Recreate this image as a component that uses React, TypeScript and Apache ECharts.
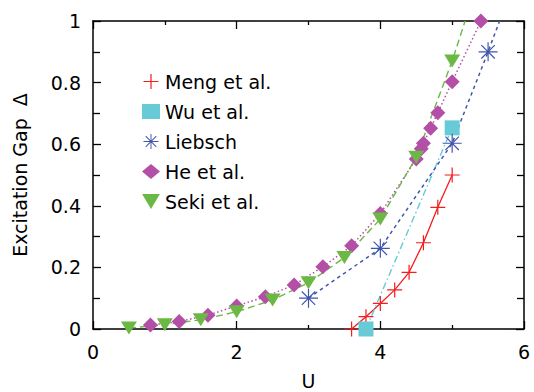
import React, { useEffect, useRef } from "react";
import * as echarts from "echarts";

// ---- data ----
const mengU = [3.6, 3.8, 4.0, 4.2, 4.4, 4.6, 4.8, 5.0];
const mengGap = [0.0, 0.04, 0.083, 0.127, 0.184, 0.28, 0.395, 0.5];

const wuU = [3.8, 5.0];
const wuGap = [0.0, 0.653];

const liebschU = [3.0, 4.0, 5.0, 5.5];
const liebschGap = [0.1, 0.262, 0.603, 0.9];
const liebschExtension = [5.66, 1.0];

const heU = [0.8, 1.2, 1.6, 2.0, 2.4, 2.8, 3.2, 3.6, 4.0, 4.5, 4.57, 4.6, 4.7, 4.8, 5.0, 5.4];
const heGap = [0.013, 0.024, 0.045, 0.075, 0.105, 0.143, 0.202, 0.27, 0.375, 0.552, 0.585, 0.603, 0.652, 0.702, 0.803, 1.0];

const sekiU = [0.5, 1.0, 1.5, 2.0, 2.5, 3.0, 3.5, 4.0, 4.5, 5.0];
const sekiGap = [0.003, 0.014, 0.03, 0.056, 0.094, 0.15, 0.232, 0.357, 0.558, 0.87];
const sekiExtension = [5.18, 1.0];

const seriesNames = ["Meng et al.", "Wu et al.", "Liebsch", "He et al.", "Seki et al."];
const xTicks = [0, 2, 4, 6];

// ---- symbols ----
const plusPath = "path://M0,4.6 H10 V5.4 H0 Z M4.6,0 H5.4 V10 H4.6 Z";
const starPath =
  "path://M9.5,2 H10.5 V18 H9.5 Z M2,9.5 H18 V10.5 H2 Z " +
  "M3.99,4.69 L4.69,3.99 L16.01,15.31 L15.31,16.01 Z " +
  "M3.99,15.31 L15.31,3.99 L16.01,4.69 L4.69,16.01 Z " +
  "M8.8,8.8 H11.2 V11.2 H8.8 Z";
const triPath = "path://M0,0 L10,0 L5,8.4 Z";

const FONT = "DejaVu Sans";

const zip = (xs: number[], ys: number[]) => xs.map((x, i) => [x, ys[i]]);

export default function App() {
  const ref = useRef<HTMLDivElement>(null);

  useEffect(() => {
    if (!ref.current) return;
    const chart = echarts.init(ref.current, null, { renderer: "svg" });

    const axisCommon = {
      min: 0,
      axisLine: { show: true, onZero: false, lineStyle: { color: "#000", width: 1.5 } },
      splitLine: { show: false },
    };
    const tickStyle = { color: "#000", width: 1.3 };

    const option: any = {
      animation: false,
      backgroundColor: "#fff",
      grid: { left: 93, right: 10, top: 21, bottom: 63, outerBoundsMode: "none", containLabel: false },
      legend: {
        orient: "vertical",
        left: 137,
        top: 67,
        itemWidth: 18,
        itemHeight: 15,
        itemGap: 11,
        selectedMode: false,
        textStyle: { fontFamily: FONT, fontSize: 19, color: "#000" },
        data: [
          { name: seriesNames[0], icon: plusPath },
          { name: seriesNames[1], icon: "rect" },
          { name: seriesNames[2], icon: starPath },
          { name: seriesNames[3], icon: "diamond" },
          { name: seriesNames[4], icon: triPath },
        ],
      },
      xAxis: [
        {
          ...axisCommon,
          type: "value",
          position: "bottom",
          max: 6,
          interval: 2,
          name: "U",
          nameLocation: "middle",
          nameGap: 42,
          nameTextStyle: { fontFamily: FONT, fontSize: 19, color: "#000" },
          axisTick: { show: true, inside: true, length: 8, lineStyle: tickStyle },
          minorTick: { show: true, splitNumber: 2, length: 4, lineStyle: tickStyle },
          axisLabel: {
            fontFamily: FONT,
            fontSize: 19,
            color: "#000",
            margin: 13,
            formatter: (v: number) => (xTicks.includes(v) ? String(v) : ""),
          },
        },
        {
          ...axisCommon,
          type: "value",
          position: "top",
          max: 6,
          interval: 2,
          axisTick: { show: true, inside: true, length: 8, lineStyle: tickStyle },
          minorTick: { show: true, splitNumber: 2, length: 4, lineStyle: tickStyle },
          axisLabel: { show: false },
        },
      ],
      yAxis: [
        {
          ...axisCommon,
          type: "value",
          position: "left",
          max: 1,
          interval: 0.2,
          name: "Excitation Gap  Δ",
          nameLocation: "middle",
          nameGap: 64,
          nameTextStyle: { fontFamily: FONT, fontSize: 19, color: "#000" },
          axisTick: { show: true, inside: true, length: 8, lineStyle: tickStyle },
          minorTick: { show: true, splitNumber: 2, length: 7, lineStyle: tickStyle },
          axisLabel: { fontFamily: FONT, fontSize: 19, color: "#000", margin: 12 },
        },
        {
          ...axisCommon,
          type: "value",
          position: "right",
          max: 1,
          interval: 0.2,
          axisTick: { show: true, inside: true, length: 8, lineStyle: tickStyle },
          minorTick: { show: true, splitNumber: 2, length: 7, lineStyle: tickStyle },
          axisLabel: { show: false },
        },
      ],
      series: [
        {
          name: seriesNames[0],
          type: "line",
          xAxisIndex: 0,
          yAxisIndex: 0,
          data: zip(mengU, mengGap),
          symbol: plusPath,
          symbolSize: 15,
          color: "#f41c1c",
          itemStyle: { color: "#f41c1c", borderWidth: 0 },
          lineStyle: { color: "#f41c1c", width: 1.3, type: "solid" },
        },
        {
          name: seriesNames[1],
          type: "line",
          xAxisIndex: 0,
          yAxisIndex: 0,
          data: zip(wuU, wuGap),
          symbol: "rect",
          symbolSize: 15,
          color: "#68c9d7",
          itemStyle: { color: "#68c9d7", borderWidth: 0 },
          lineStyle: { color: "#68c9d7", width: 1.4, type: [7, 3, 1.5, 3] },
        },
        {
          name: seriesNames[2],
          type: "line",
          xAxisIndex: 0,
          yAxisIndex: 0,
          data: [
            ...zip(liebschU, liebschGap),
            { value: liebschExtension, symbol: "none" },
          ],
          symbol: starPath,
          symbolSize: 19,
          color: "#3f56ad",
          itemStyle: { color: "#3f56ad", borderWidth: 0 },
          lineStyle: { color: "#3f56ad", width: 1.5, type: [3.5, 3.5] },
        },
        {
          name: seriesNames[3],
          type: "line",
          xAxisIndex: 0,
          yAxisIndex: 0,
          data: zip(heU, heGap),
          symbol: "diamond",
          symbolSize: 15,
          color: "#b34fa6",
          itemStyle: { color: "#b34fa6", borderWidth: 0 },
          lineStyle: { color: "#b34fa6", width: 1.5, type: [1.5, 2.5] },
        },
        {
          name: seriesNames[4],
          type: "line",
          xAxisIndex: 0,
          yAxisIndex: 0,
          data: [...zip(sekiU, sekiGap), { value: sekiExtension, symbol: "none" }],
          symbol: triPath,
          symbolSize: [16, 13],
          color: "#6cb844",
          itemStyle: { color: "#6cb844", borderWidth: 0 },
          lineStyle: { color: "#6cb844", width: 1.4, type: [7, 4] },
        },
      ],
    };

    chart.setOption(option);
    return () => chart.dispose();
  }, []);

  return (
    <div
      ref={ref}
      style={{ position: "fixed", left: 0, top: 0, width: 534, height: 392, background: "#fff" }}
    />
  );
}
